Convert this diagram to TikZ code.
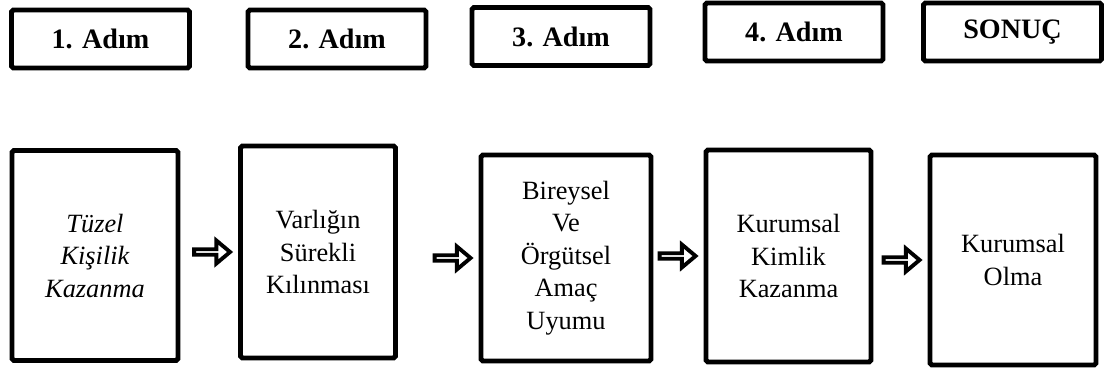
\documentclass[tikz,border=0pt]{standalone}
\usepackage{fontspec}
\setmainfont{Liberation Serif}
\usetikzlibrary{shapes.arrows,positioning}

\begin{document}
\begin{tikzpicture}[x=0.02cm, y=-0.02cm,
    stepbox/.style={draw, line width=2.8pt, rounded corners=1pt, minimum width=3.56cm, minimum height=1.16cm, inner sep=0pt, font=\fontsize{16}{19}\selectfont\bfseries},
    stagebox/.style={draw, line width=2.8pt, rounded corners=1pt, minimum width=3.32cm, minimum height=4.2cm, inner sep=0pt, align=center, font=\fontsize{15}{18.5}\selectfont},
    fatarrow/.style={single arrow, draw, line width=2.2pt, minimum height=0.72cm, minimum width=0.46cm, single arrow head extend=0.12cm, single arrow tip angle=80, inner sep=0pt, outer sep=0pt}]
    \useasboundingbox (0,0) rectangle (1111,371);

    \node[stepbox] (step1) at (100.5,39) {1. Adım};
    \node[stepbox] (step2) at (337,39) {2. Adım};
    \node[stepbox] (step3) at (561,36.5) {3. Adım};
    \node[stepbox] (step4) at (794,32) {4. Adım};
    \node[stepbox] (result) at (1012.5,32) {SONUÇ};

    \node[stagebox, font=\fontsize{15}{18.5}\selectfont\itshape] (tuzel) at (95,255.5) {Tüzel\\Kişilik\\Kazanma};
    \node[stagebox, minimum width=3.1cm, minimum height=4.24cm] (varlik) at (318,252) {Varlığın\\Sürekli\\Kılınması};
    \node[stagebox, minimum width=3.4cm, minimum height=4.12cm] (uyum) at (566,258) {Bireysel\\Ve\\Örgütsel\\Amaç\\Uyumu};
    \node[stagebox, minimum width=3.3cm, minimum height=4.24cm] (kimlik) at (788.5,256) {Kurumsal\\Kimlik\\Kazanma};
    \node[stagebox] (kurumsal) at (1013,260) {Kurumsal\\Olma};

    \node[fatarrow, left=0.16cm of varlik] (arr1) {};
    \node[fatarrow, left=0.16cm of uyum] (arr2) {};
    \node[fatarrow, left=0.16cm of kimlik] (arr3) {};
    \node[fatarrow, left=0.16cm of kurumsal] (arr4) {};
\end{tikzpicture}
\end{document}
